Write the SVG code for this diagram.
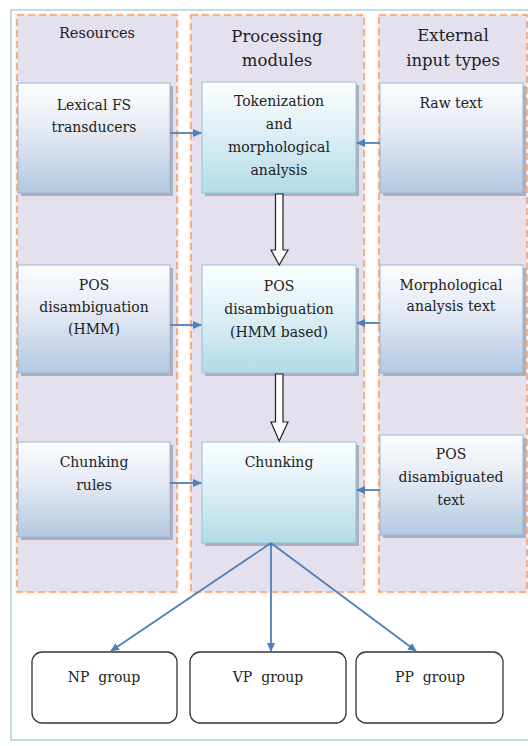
<svg xmlns="http://www.w3.org/2000/svg" width="528" height="746" viewBox="0 0 528 746">
<style>
.col{fill:#e5e0ee;stroke:#f2a26e;stroke-width:1.6;stroke-dasharray:7 4}
.colhalo{fill:none;stroke:#fdf3ee;stroke-width:5}
.rbox{fill:url(#gSide);stroke:#9ab5d6;stroke-width:1}
.pbox{fill:url(#gProc);stroke:#93c2d4;stroke-width:1}
.shadow{fill:#7d8796;opacity:0.55}
.t{font-family:"DejaVu Serif","Liberation Serif",serif;font-size:14px;fill:#222;text-anchor:middle;dominant-baseline:central}
.h{font-family:"DejaVu Serif","Liberation Serif",serif;font-size:16.5px;fill:#222;text-anchor:middle;dominant-baseline:central}
.conn{stroke:#4f7fbb;stroke-width:1.8;fill:none}
.blk{fill:#fff;stroke:#222;stroke-width:1.2}
.gbox{fill:#fff;stroke:#333;stroke-width:1.3}
</style>
<defs>
<linearGradient id="gSide" x1="0" y1="0" x2="0" y2="1">
<stop offset="0" stop-color="#fdfdff"/>
<stop offset="0.45" stop-color="#e3e9f3"/>
<stop offset="1" stop-color="#b3c8e2"/>
</linearGradient>
<linearGradient id="gProc" x1="0" y1="0" x2="0" y2="1">
<stop offset="0" stop-color="#fbfeff"/>
<stop offset="0.45" stop-color="#dff0f5"/>
<stop offset="1" stop-color="#b2dbe7"/>
</linearGradient>
<marker id="ah" markerWidth="10" markerHeight="10" refX="8" refY="5" orient="auto" markerUnits="userSpaceOnUse">
<path d="M0,1 L9,5 L0,9 Z" fill="#4f7fbb"/>
</marker>
</defs>
<rect x="0" y="0" width="528" height="746" fill="#fff"/>
<rect x="11" y="10" width="520" height="730" fill="#fff" stroke="#a9d3d8" stroke-width="1.5"/>

<g id="columns">
<rect class="colhalo" x="17" y="15" width="160" height="577"/>
<rect class="colhalo" x="191" y="15" width="173" height="577"/>
<rect class="colhalo" x="379" y="15" width="148" height="577"/>
<rect class="col" x="17" y="15" width="160" height="577"/>
<rect class="col" x="191" y="15" width="173" height="577"/>
<rect class="col" x="379" y="15" width="148" height="577"/>
<text class="h" x="97" y="33" style="font-size:14.5px">Resources</text>
<text class="h" x="277" y="36">Processing</text>
<text class="h" x="277" y="60">modules</text>
<text class="h" x="453" y="35">External</text>
<text class="h" x="453" y="60">input types</text>
</g>

<g id="lexical">
<rect class="shadow" x="21" y="86" width="152" height="110"/>
<rect class="rbox" x="18" y="83" width="152" height="110"/>
<text class="t" x="94" y="105">Lexical FS</text>
<text class="t" x="94" y="127">transducers</text>
</g>
<g id="tokenization">
<rect class="shadow" x="205" y="85" width="154" height="111"/>
<rect class="pbox" x="202" y="82" width="154" height="111"/>
<text class="t" x="279" y="101">Tokenization</text>
<text class="t" x="279" y="124">and</text>
<text class="t" x="279" y="147">morphological</text>
<text class="t" x="279" y="170">analysis</text>
</g>
<g id="rawtext">
<rect class="shadow" x="383" y="86" width="143" height="110"/>
<rect class="rbox" x="380" y="83" width="143" height="110"/>
<text class="t" x="451" y="103">Raw text</text>
</g>

<g id="poshmm">
<rect class="shadow" x="21" y="268" width="152" height="108"/>
<rect class="rbox" x="18" y="265" width="152" height="108"/>
<text class="t" x="94" y="285">POS</text>
<text class="t" x="94" y="307">disambiguation</text>
<text class="t" x="94" y="329">(HMM)</text>
</g>
<g id="posproc">
<rect class="shadow" x="205" y="268" width="154" height="108"/>
<rect class="pbox" x="202" y="265" width="154" height="108"/>
<text class="t" x="279" y="286">POS</text>
<text class="t" x="279" y="309">disambiguation</text>
<text class="t" x="279" y="332">(HMM based)</text>
</g>
<g id="morphtext">
<rect class="shadow" x="383" y="268" width="143" height="108"/>
<rect class="rbox" x="380" y="265" width="143" height="108"/>
<text class="t" x="451" y="285">Morphological</text>
<text class="t" x="451" y="306">analysis text</text>
</g>

<g id="chunkrules">
<rect class="shadow" x="21" y="445" width="152" height="95"/>
<rect class="rbox" x="18" y="442" width="152" height="95"/>
<text class="t" x="94" y="462">Chunking</text>
<text class="t" x="94" y="485">rules</text>
</g>
<g id="chunking">
<rect class="shadow" x="205" y="445" width="154" height="101"/>
<rect class="pbox" x="202" y="442" width="154" height="101"/>
<text class="t" x="279" y="462">Chunking</text>
</g>
<g id="posdistext">
<rect class="shadow" x="383" y="438" width="143" height="100"/>
<rect class="rbox" x="380" y="435" width="143" height="100"/>
<text class="t" x="451" y="454">POS</text>
<text class="t" x="451" y="477">disambiguated</text>
<text class="t" x="451" y="500">text</text>
</g>

<g id="np">
<rect class="gbox" x="32" y="652" width="145" height="71" rx="10"/>
<text class="t" x="104" y="677" xml:space="preserve">NP  group</text>
</g>
<g id="vp">
<rect class="gbox" x="190" y="652" width="156" height="71" rx="10"/>
<text class="t" x="268" y="677" xml:space="preserve">VP  group</text>
</g>
<g id="pp">
<rect class="gbox" x="356" y="652" width="147" height="71" rx="10"/>
<text class="t" x="430" y="677" xml:space="preserve">PP  group</text>
</g>

<g id="connectors">
<line class="conn" x1="170" y1="133" x2="201" y2="133" marker-end="url(#ah)"/>
<line class="conn" x1="380" y1="143" x2="357" y2="143" marker-end="url(#ah)"/>
<line class="conn" x1="170" y1="325" x2="201" y2="325" marker-end="url(#ah)"/>
<line class="conn" x1="380" y1="323" x2="357" y2="323" marker-end="url(#ah)"/>
<line class="conn" x1="170" y1="483" x2="201" y2="483" marker-end="url(#ah)"/>
<line class="conn" x1="380" y1="490" x2="357" y2="490" marker-end="url(#ah)"/>
<line class="conn" x1="271" y1="543" x2="111" y2="651" marker-end="url(#ah)"/>
<line class="conn" x1="271" y1="543" x2="271" y2="651" marker-end="url(#ah)"/>
<line class="conn" x1="271" y1="543" x2="416" y2="651" marker-end="url(#ah)"/>
<path class="blk" d="M275.5,194 L283,194 L283,250 L288,250 L279.2,265 L271,250 L275.5,250 Z"/>
<path class="blk" d="M275.5,374 L283,374 L283,422 L288,422 L279.2,441 L271,422 L275.5,422 Z"/>
</g>
</svg>
